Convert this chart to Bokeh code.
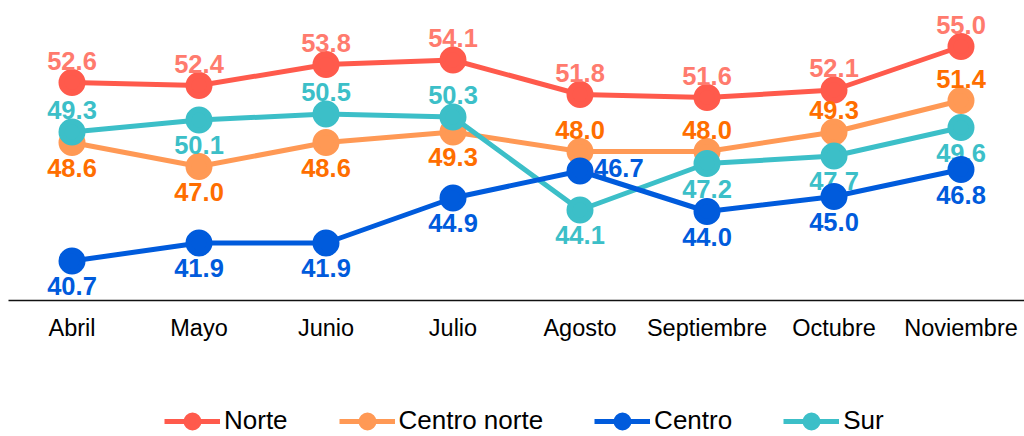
from bokeh.plotting import figure
from bokeh.layouts import column
from bokeh.models import ColumnDataSource, FactorRange, Range1d, Legend, LegendItem
from bokeh.core.properties import value
from bokeh.embed import file_html
from bokeh.resources import INLINE

months = ["Abril", "Mayo", "Junio", "Julio", "Agosto", "Septiembre", "Octubre", "Noviembre"]

norte = [52.6, 52.4, 53.8, 54.1, 51.8, 51.6, 52.1, 55.0]
centro_norte = [48.6, 47.0, 48.6, 49.3, 48.0, 48.0, 49.3, 51.4]
centro = [40.7, 41.9, 41.9, 44.9, 46.7, 44.0, 45.0, 46.8]
sur = [49.3, 50.1, 50.5, 50.3, 44.1, 47.2, 47.7, 49.6]

# where each data label sits relative to its point: a (above), b (below), r (right)
series = [
    # name, values, line colour, label colour, label placement
    ("Norte", norte, "#FF5A4C", "#FF7B6E", "aaaaaaaa"),
    ("Centro norte", centro_norte, "#FF9955", "#FF6E00", "bbbbaaaa"),
    ("Sur", sur, "#3CBFC8", "#3CBFC8", "abaabbbb"),
    ("Centro", centro, "#005BDC", "#005BDC", "bbbbrbbb"),
]
legend_order = ["Norte", "Centro norte", "Centro", "Sur"]

p = figure(
    x_range=FactorRange(factors=months, range_padding=0),
    y_range=Range1d(38.067, 58.067),
    width=1024, height=345,
    output_backend="svg",
    toolbar_location=None,
    y_axis_location=None,
    min_border_left=8, min_border_right=0,
    min_border_top=0, min_border_bottom=45,
)
p.outline_line_color = None
p.xgrid.visible = False
p.ygrid.visible = False

ax = p.xaxis[0]
ax.axis_line_color = "#111111"
ax.axis_line_width = 1.6
ax.major_tick_line_color = None
ax.minor_tick_line_color = None
ax.major_tick_out = 0
ax.major_label_standoff = 14
ax.major_label_text_font = "Liberation Sans"
ax.major_label_text_font_size = "23.5px"
ax.major_label_text_color = "#000000"

# legend strip under the chart; the series are drawn there too but sit
# outside its y range, so only the legend shows
lf = figure(
    x_range=FactorRange(factors=months, range_padding=0),
    y_range=Range1d(0, 1),
    width=1024, height=91,
    output_backend="svg",
    toolbar_location=None,
    x_axis_location=None, y_axis_location=None,
    min_border=0,
)
lf.outline_line_color = None
lf.xgrid.visible = False
lf.ygrid.visible = False

items = {}
for name, vals, lc, tc, place in series:
    src = ColumnDataSource(dict(x=months, y=vals))
    p.line("x", "y", source=src, line_color=lc, line_width=5)
    p.scatter("x", "y", source=src, size=21, line_width=6, fill_color=lc, line_color=lc)
    r1 = lf.line("x", "y", source=src, line_color=lc, line_width=5)
    r2 = lf.scatter("x", "y", source=src, size=21, line_width=6, fill_color=lc, line_color=lc)
    items[name] = [r1, r2]
    for kind, dy, align, dx in (("a", -22, "center", 0), ("b", 25, "center", 0), ("r", -3, "left", 14)):
        idx = [i for i, c in enumerate(place) if c == kind]
        if not idx:
            continue
        sub = ColumnDataSource(dict(
            x=[months[i] for i in idx],
            y=[vals[i] for i in idx],
            lab=["%.1f" % vals[i] for i in idx],
        ))
        p.text("x", "y", text="lab", source=sub, x_offset=dx, y_offset=dy,
               text_align=align, text_baseline="middle",
               text_font=value("Liberation Sans"), text_font_style="bold",
               text_font_size="25.5px", text_color=tc)

legend = Legend(
    items=[LegendItem(label=n, renderers=items[n]) for n in legend_order],
    location=(156, 0),
    orientation="horizontal",
    glyph_width=56, glyph_height=30,
    label_standoff=4, spacing=51,
    padding=0, margin=0,
    border_line_alpha=0, background_fill_alpha=0,
    label_text_font="Liberation Sans",
    label_text_font_size="26px",
    label_text_color="#000000",
)
lf.add_layout(legend)

layout = column(p, lf, spacing=0)
open("out.html", "w").write(file_html(layout, INLINE))
